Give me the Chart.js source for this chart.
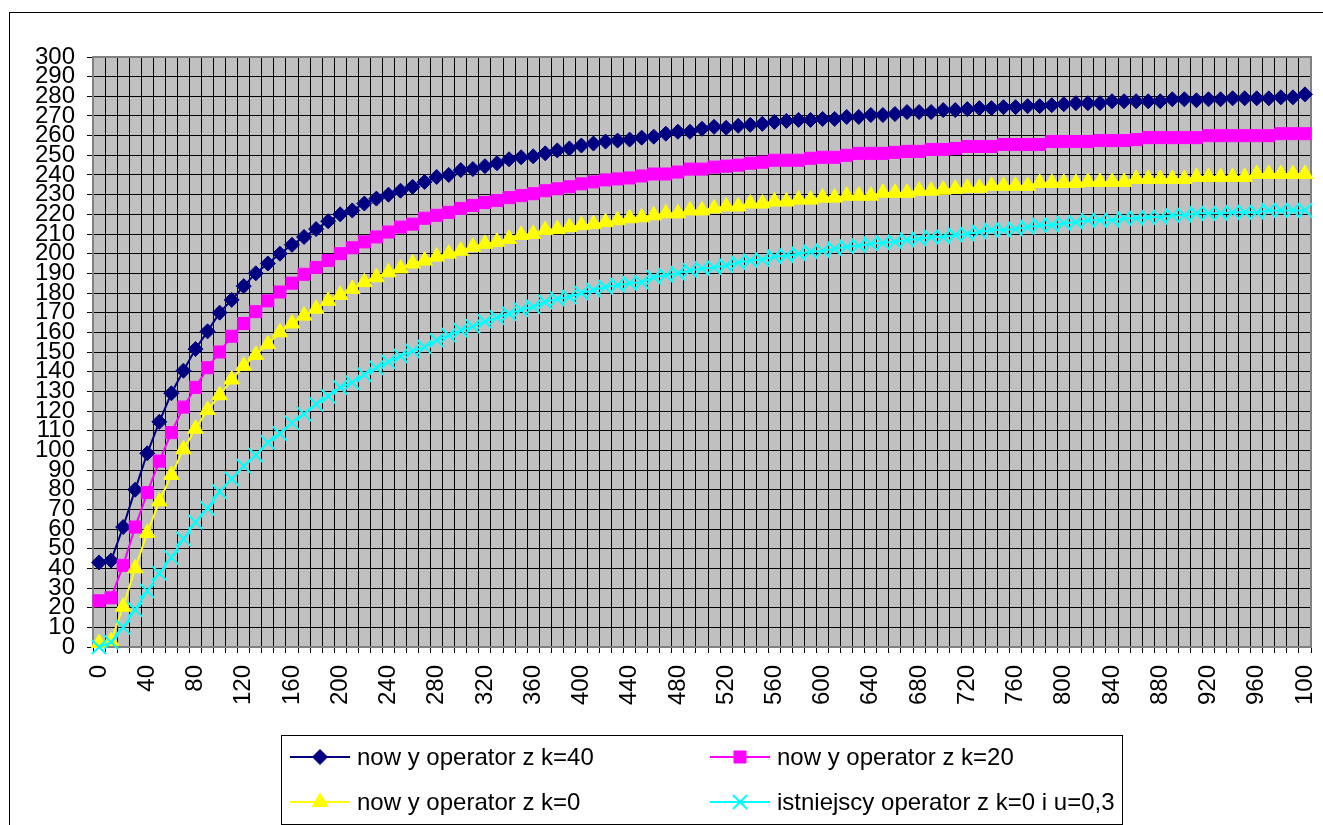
<!DOCTYPE html>
<html>
<head>
<meta charset="utf-8">
<script src="https://cdn.jsdelivr.net/npm/chart.js@4.4.1/dist/chart.umd.min.js"></script>
<style>
  html, body { margin: 0; padding: 0; background: #ffffff; }
  canvas { display: block; }
</style>
</head>
<body>
<canvas id="c" width="1323" height="825"></canvas>
<script>
// ---- data ----
const categories = [0,10,20,30,40,50,60,70,80,90,100,110,120,130,140,150,160,170,180,190,
  200,210,220,230,240,250,260,270,280,290,300,310,320,330,340,350,360,370,380,390,
  400,410,420,430,440,450,460,470,480,490,500,510,520,530,540,550,560,570,580,590,
  600,610,620,630,640,650,660,670,680,690,700,710,720,730,740,750,760,770,780,790,
  800,810,820,830,840,850,860,870,880,890,900,910,920,930,940,950,960,970,980,990,1000];

const tickLabels = ["0","40","80","120","160","200","240","280","320","360","400","440","480",
  "520","560","600","640","680","720","760","800","840","880","920","960","100"];

const seriesNames = ["now y operator z k=40", "now y operator z k=20",
  "now y operator z k=0", "istniejscy operator z k=0 i u=0,3"];

const k40 = [43, 44, 61, 80, 98.5, 114.5, 129, 140.5, 151.5, 160.5,
  170, 176.5, 183.5, 190, 195, 200, 204.5, 208.5, 212.5, 216.5,
  220, 222, 225.5, 228, 230, 232, 234, 236.5, 239, 240,
  242.5, 243, 244.5, 246, 248, 249, 249.5, 251, 252.5, 253.5,
  255, 256, 257, 257.5, 258, 259, 259.5, 261, 262, 262,
  263.5, 264.5, 264, 265, 265.5, 266, 267, 267.5, 268, 268,
  268.5, 268.5, 269.5, 269.5, 270.5, 270.5, 271, 272, 272, 272,
  273, 273, 273.5, 274, 274, 274.5, 274.5, 275, 275, 275.5,
  276, 276.5, 276.5, 276.5, 277.5, 277.5, 277.5, 277.5, 277.5, 278.5,
  278.5, 278, 278.5, 278.5, 279, 279, 279, 279, 279.5, 279.5,
  281];

const k20 = [23.5, 25, 41.5, 61, 78.5, 94.5, 109, 122, 132, 142,
  150, 158, 164.5, 170.5, 176, 180.5, 185, 189.5, 193, 196.5,
  200, 203, 206, 208.5, 211, 213.5, 215, 218, 219.5, 221,
  223, 224.5, 226, 227, 228.5, 229.5, 230.5, 232, 233, 234,
  235.5, 236.5, 237.5, 238, 238.5, 239.5, 240.5, 240.5, 241.5, 243,
  243, 244, 244.5, 245, 246, 246.5, 247.5, 247.5, 247.5, 248.5,
  249, 249, 250, 251, 251, 251, 251.5, 252, 252, 253,
  253, 253.5, 254.5, 254.5, 254.5, 255.5, 255.5, 255.5, 255.5, 257,
  257, 257, 257, 257.5, 257.5, 257.5, 258, 259, 259, 259,
  259, 259, 260, 260, 260, 260, 260, 260, 261, 261,
  261];

const k0 = [2, 3, 20.5, 40, 58, 74, 87.5, 100.5, 111, 120.5,
  128, 136, 143, 148.5, 154, 160, 164.5, 168.5, 172, 176,
  179, 182, 185.5, 188, 190.5, 192.5, 195, 196.5, 198.5, 200,
  201.5, 203.5, 205, 206, 207.5, 209.5, 210, 212, 212.5, 213.5,
  214.5, 215, 216, 217, 218, 218.5, 219.5, 220.5, 220.5, 222,
  222, 223, 224, 224, 225.5, 225.5, 226.5, 226.5, 227.5, 227.5,
  228.5, 228.5, 229.5, 229.5, 229.5, 231, 231, 231, 232, 232,
  232.5, 233, 233.5, 233.5, 234.5, 234.5, 234.5, 234.5, 236, 236,
  236, 236, 236.5, 236.5, 236.5, 236.5, 238, 238, 238, 238,
  238, 239, 239, 239, 239, 239, 240.5, 240.5, 240.5, 240.5,
  240.5];

const existing = [0, 2.5, 10, 19, 28.5, 37.5, 45.5, 55, 63.5, 70.5,
  79, 85.5, 92, 97.5, 104, 108.5, 114, 118.5, 123.5, 127.5,
  132, 134.5, 138.5, 142, 145, 148, 150.5, 152.5, 156, 158.5,
  161, 163, 165.5, 167.5, 169.5, 171.5, 173, 175.5, 177, 178,
  180, 181.5, 183, 184, 185, 185.5, 188, 189, 190, 191.5,
  192.5, 193, 194, 195.5, 196.5, 197, 198.5, 199, 200, 201,
  201.5, 202.5, 203.5, 204, 205, 205.5, 206, 207, 207.5, 208.5,
  208.5, 209.5, 210, 211, 212, 212, 212.5, 213.5, 214.5, 214.5,
  215.5, 216, 217, 217, 217, 218, 218, 218.5, 218.5, 219.5,
  219.5, 220.5, 220.5, 220.5, 221, 221, 221, 222, 222, 222,
  222];

// ---- chart ----
Chart.defaults.font.family = '"Liberation Sans", Arial, sans-serif';
Chart.defaults.color = '#000000';

const frame = {
  id: 'excelFrame',
  beforeDraw(chart) {
    const ctx = chart.ctx, a = chart.chartArea;
    ctx.save();
    ctx.fillStyle = '#ffffff';
    ctx.fillRect(0, 0, chart.width, chart.height);
    ctx.strokeStyle = '#000000';
    ctx.lineWidth = 1;
    ctx.strokeRect(9.5, 12.5, 1400, 900);
    ctx.fillStyle = '#C0C0C0';
    ctx.fillRect(a.left, a.top, a.right - a.left, a.bottom - a.top);
    ctx.restore();
  },
  beforeDatasetsDraw(chart) {
    const ctx = chart.ctx, a = chart.chartArea;
    ctx.save();
    ctx.strokeStyle = '#808080';
    ctx.lineWidth = 2;
    ctx.strokeRect(a.left, a.top, a.right - a.left, a.bottom - a.top);
    ctx.restore();
  },
  afterDraw(chart) {
    const ctx = chart.ctx;
    ctx.save();
    ctx.strokeStyle = '#000000';
    ctx.lineWidth = 1;
    ctx.strokeRect(281.5, 735.5, 841, 89);
    const slots = [[290, 757], [710, 757], [290, 802], [710, 802]];
    chart.data.datasets.forEach((ds, i) => {
      const [x, y] = slots[i];
      ctx.strokeStyle = ds.borderColor;
      ctx.lineWidth = ds.borderWidth;
      ctx.beginPath();
      ctx.moveTo(x, y);
      ctx.lineTo(x + 60, y);
      ctx.stroke();
      ctx.fillStyle = ds.pointBackgroundColor;
      ctx.strokeStyle = ds.pointBorderColor;
      ctx.lineWidth = ds.pointBorderWidth;
      Chart.helpers.drawPoint(ctx, {
        pointStyle: ds.pointStyle, radius: ds.pointRadius,
        borderWidth: ds.pointBorderWidth, rotation: 0
      }, x + 30, y);
      ctx.fillStyle = '#000000';
      ctx.font = '24px "Liberation Sans", Arial, sans-serif';
      ctx.textBaseline = 'middle';
      ctx.textAlign = 'left';
      ctx.fillText(ds.label, x + 67, y + 1);
    });
    ctx.restore();
  }
};

const mk = (label, data, color, style, radius, bw, order) => ({
  label, data,
  borderColor: color, backgroundColor: color,
  borderWidth: 2,
  pointStyle: style, pointRadius: radius, pointHoverRadius: radius,
  pointBackgroundColor: color, pointBorderColor: color, pointBorderWidth: bw,
  tension: 0, fill: false, clip: false, order
});

new Chart(document.getElementById('c'), {
  type: 'line',
  data: {
    labels: categories,
    datasets: [
      mk(seriesNames[0], k40, '#000080', 'rectRot', 7.5, 1, 3),
      mk(seriesNames[1], k20, '#FF00FF', 'rect', 8.5, 1, 2),
      mk(seriesNames[2], k0, '#FFFF00', 'triangle', 9, 1, 1),
      mk(seriesNames[3], existing, '#00FFFF', 'crossRot', 10, 2, 0)
    ]
  },
  options: {
    responsive: false,
    animation: false,
    events: [],
    layout: { padding: { left: 10, top: 57, right: 11, bottom: 0 } },
    plugins: { legend: { display: false }, tooltip: { enabled: false } },
    scales: {
      x: {
        type: 'category',
        offset: true,
        grid: { offset: true, color: '#000000', lineWidth: 1, tickLength: 6, drawTicks: true },
        border: { display: false },
        ticks: {
          autoSkip: false, minRotation: 90, maxRotation: 90, padding: 12,
          font: { size: 24 }, color: '#000000',
          callback: (v, i) => (i % 4 === 0 ? tickLabels[i / 4] : '')
        },
        afterFit: (s) => { s.height = 178; s.paddingLeft = 0; s.paddingRight = 0; }
      },
      y: {
        min: 0, max: 300,
        grid: { color: '#000000', lineWidth: 1, tickLength: 6 },
        border: { display: false },
        ticks: { stepSize: 10, autoSkip: false, padding: 12, font: { size: 24 }, color: '#000000' },
        afterFit: (s) => { s.width = 83; s.paddingTop = 0; s.paddingBottom = 0; }
      }
    }
  },
  plugins: [frame]
});
</script>
</body>
</html>
